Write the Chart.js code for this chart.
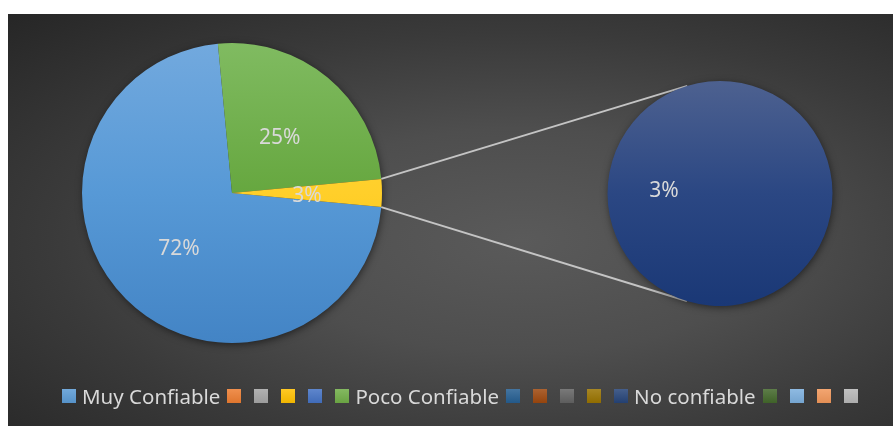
<!DOCTYPE html>
<html lang="es">
  <head>
    <meta charset="UTF-8" />
    <title>Confiabilidad</title>
    <style>
      html, body { margin: 0; padding: 0; background: #fff; width: 894px; height: 426px; overflow: hidden; }
      #panel {
        position: absolute; left: 8px; top: 14px; width: 885px; height: 412px;
        background: radial-gradient(farthest-corner at 58% 55%, #5a5a5a 0%, #4e4e4e 35%, #3a3a3a 65%, #262626 100%);
      }
      #panel canvas { position: absolute; left: 0; top: 0; }
      #legend {
        position: absolute; left: 54px; top: 372px; display: flex; align-items: center;
        font-family: 'Noto Sans'; font-size: 20.5px; line-height: 20px; color: #d9d9d9; white-space: nowrap;
      }
      .item { display: flex; align-items: center; margin-right: 7px; }
      .box {
        width: 14px; height: 14px; margin-right: 6px;
        background-image: linear-gradient(rgba(255, 255, 255, 0.14), rgba(0, 0, 0, 0.06));
      }
    </style>
  </head>
  <body>
    <div id="panel">
      <canvas id="mainPie" width="885" height="412"></canvas>
      <canvas id="subPie" width="885" height="412"></canvas>
      <div id="legend"></div>
    </div>
    <script src="https://cdn.jsdelivr.net/npm/chart.js"></script>
    <script>
      const categories = ['Muy Confiable', '', '', '', '', 'Poco Confiable', '', '', '', '', 'No confiable', '', '', '', ''];
      const shares = [72, 0, 0, 0, 0, 25, 0, 0, 0, 0, 3, 0, 0, 0, 0];
      // categories that get pulled out into the small pie
      const secondPlot = ['No confiable'];
      const otherLabel = 'Otro';

      const palette = ['#5B9BD5', '#ED7D31', '#A5A5A5', '#FFC000', '#4472C4', '#70AD47', '#255E91', '#9E480E',
        '#636363', '#997300', '#264478', '#43682B', '#7CAFDD', '#F1975A', '#B7B7B7'];
      // top / middle / bottom of the vertical gradient for each slice
      const shades = {
        'Muy Confiable': ['#72a9de', '#5799d6', '#4384c5'],
        'Poco Confiable': ['#80bb61', '#66a73f', '#559a2e'],
        'No confiable': ['#4d6190', '#2b4783', '#1a3876'],
        [otherLabel]: ['#ffda45', '#ffcf2a', '#f2bc00'],
      };

      const idx = categories.map((c, i) => i).filter((i) => shares[i] > 0);
      const mainIdx = idx.filter((i) => !secondPlot.includes(categories[i]));
      const subIdx = idx.filter((i) => secondPlot.includes(categories[i]));
      const total = shares.reduce((a, b) => a + b, 0);
      const otherShare = subIdx.reduce((s, i) => s + shares[i], 0);

      const mainLabels = mainIdx.map((i) => categories[i]).concat([otherLabel]);
      const mainValues = mainIdx.map((i) => shares[i]).concat([otherShare]);
      const subLabels = subIdx.map((i) => categories[i]);
      const subValues = subIdx.map((i) => shares[i]);

      // the "other" slice is centred on 3 o'clock
      const rotation = 90 + (otherShare / total) * 180;

      const verticalFill = (labels) => (ctx) => {
        const s = shades[labels[ctx.dataIndex]];
        const area = ctx.chart.chartArea;
        if (!area) return s[1];
        const g = ctx.chart.ctx.createLinearGradient(0, area.top, 0, area.bottom);
        g.addColorStop(0, s[0]);
        g.addColorStop(0.5, s[1]);
        g.addColorStop(1, s[2]);
        return g;
      };

      const pieShadow = {
        id: 'pieShadow',
        beforeDatasetsDraw(chart) {
          const arc = chart.getDatasetMeta(0).data[0];
          if (!arc) return;
          const ctx = chart.ctx;
          ctx.save();
          ctx.shadowColor = 'rgba(0,0,0,0.6)';
          ctx.shadowBlur = 9;
          ctx.shadowOffsetX = 1;
          ctx.shadowOffsetY = 2;
          ctx.fillStyle = '#333';
          ctx.beginPath();
          ctx.arc(arc.x, arc.y, arc.outerRadius - 1, 0, Math.PI * 2);
          ctx.fill();
          ctx.restore();
        },
      };

      const percentLabels = {
        id: 'percentLabels',
        afterDatasetsDraw(chart) {
          const ctx = chart.ctx;
          const values = chart.data.datasets[0].data;
          ctx.save();
          ctx.font = '21px "Noto Sans"';
          ctx.fillStyle = '#d9d9d9';
          ctx.textAlign = 'center';
          ctx.textBaseline = 'alphabetic';
          chart.getDatasetMeta(0).data.forEach((arc, i) => {
            if (!values[i]) return;
            const mid = (arc.startAngle + arc.endAngle) / 2;
            const r = arc.outerRadius * 0.5;
            const text = Math.round((values[i] / total) * 100) + '%';
            ctx.fillText(text, arc.x + Math.cos(mid) * r, arc.y + Math.sin(mid) * r + 9);
          });
          ctx.restore();
        },
      };

      const baseOptions = (padding) => ({
        responsive: false,
        animation: false,
        rotation: rotation,
        layout: { padding: padding },
        elements: { arc: { borderWidth: 0, hoverOffset: 0 } },
        plugins: { legend: { display: false }, tooltip: { enabled: false } },
      });

      const mainChart = new Chart(document.getElementById('mainPie'), {
        type: 'pie',
        data: {
          labels: mainLabels,
          datasets: [{ data: mainValues, backgroundColor: verticalFill(mainLabels) }],
        },
        options: baseOptions({ left: 74, top: 29, right: 511, bottom: 83 }),
        plugins: [pieShadow, percentLabels],
      });

      // lines from the edges of the "other" slice, tangent to the small pie
      const connectors = {
        id: 'connectors',
        beforeDatasetsDraw(chart) {
          const other = mainChart.getDatasetMeta(0).data[mainValues.length - 1];
          const sub = chart.getDatasetMeta(0).data[0];
          if (!other || !sub) return;
          const ctx = chart.ctx;
          ctx.save();
          ctx.strokeStyle = '#c4c4c4';
          ctx.lineWidth = 2;
          [[other.startAngle, 1], [other.endAngle, -1]].forEach(([a, side]) => {
            const px = other.x + Math.cos(a) * other.outerRadius;
            const py = other.y + Math.sin(a) * other.outerRadius;
            const d = Math.hypot(px - sub.x, py - sub.y);
            const t = Math.atan2(py - sub.y, px - sub.x) + side * Math.acos(sub.outerRadius / d);
            ctx.beginPath();
            ctx.moveTo(px, py);
            ctx.lineTo(sub.x + Math.cos(t) * sub.outerRadius, sub.y + Math.sin(t) * sub.outerRadius);
            ctx.stroke();
          });
          ctx.restore();
        },
      };

      new Chart(document.getElementById('subPie'), {
        type: 'pie',
        data: {
          labels: subLabels,
          datasets: [{ data: subValues, backgroundColor: verticalFill(subLabels) }],
        },
        options: baseOptions({ left: 599.5, top: 67, right: 60.5, bottom: 120 }),
        plugins: [connectors, pieShadow, percentLabels],
      });

      const legend = document.getElementById('legend');
      categories.forEach((name, i) => {
        const item = document.createElement('span');
        item.className = 'item';
        const box = document.createElement('span');
        box.className = 'box';
        box.style.backgroundColor = palette[i];
        item.appendChild(box);
        if (name) {
          const t = document.createElement('span');
          t.textContent = name;
          item.appendChild(t);
        }
        legend.appendChild(item);
      });
    </script>
  </body>
</html>
